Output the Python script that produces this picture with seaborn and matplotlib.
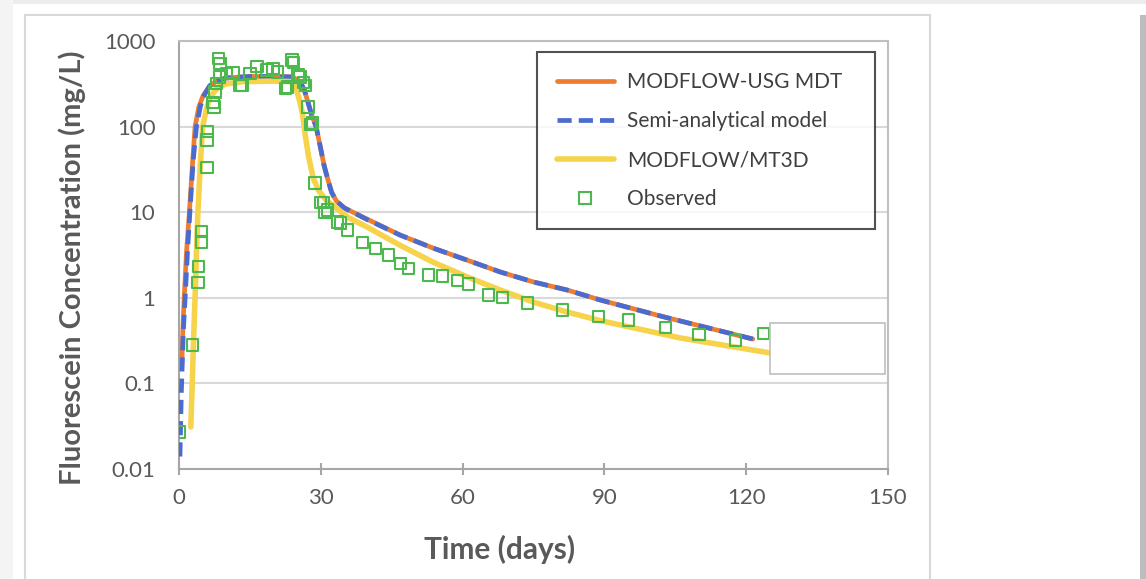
import matplotlib
matplotlib.use("Agg")
import matplotlib.pyplot as plt
from matplotlib.lines import Line2D
from matplotlib.patches import Rectangle
import seaborn as sns
import pandas as pd

# ---------------- data ----------------
mdt_day = [0.6, 0.8, 1.1, 1.6, 2.2, 2.9, 3.4, 4.2, 5.1, 6.5, 8, 10, 15, 20, 24,
           25.5, 26.5, 27.2, 28.0, 29.0, 29.9, 30.7, 31.5, 32.3, 33.3, 35.0,
           39.8, 46.8, 53.8, 61, 68, 75, 82.2, 89.2, 102.5, 121.4]
mdt_conc = [0.17, 0.4, 1.0, 3.5, 10, 40, 100, 170, 230, 300, 340, 370, 385, 385, 380,
            340, 270, 200, 140, 100, 58, 35, 24, 17, 13.5, 11.2,
            8.3, 5.4, 3.8, 2.75, 2.0, 1.53, 1.23, 0.94, 0.6, 0.33]

semi_day = [0.2, 0.5, 0.9, 1.3, 1.8, 2.3, 3.0, 3.7, 4.5, 5.1, 6.5, 8, 10, 15, 20, 24,
            25.5, 26.5, 27.2, 28.0, 29.0, 29.9, 30.7, 31.5, 32.3, 33.3, 35.0,
            39.8, 46.8, 53.8, 61, 68, 75, 82.2, 89.2, 102.5, 121.4]
semi_conc = [0.014, 0.08, 0.4, 1.0, 3.5, 10, 40, 100, 170, 220, 300, 340, 370, 385, 385, 380,
             340, 270, 200, 140, 100, 58, 35, 24, 17, 13.5, 11.2,
             8.2, 5.4, 3.8, 2.75, 2.0, 1.53, 1.23, 0.94, 0.6, 0.33]

mt3d_day = [2.5, 2.8, 3.1, 3.4, 3.7, 4.0, 4.5, 5.0, 5.8, 6.6, 8.3, 10, 13.6, 20, 24.2,
            24.8, 25.5, 26.1, 26.7, 27.4, 28.4, 29.5, 31.3, 32.6, 35.6, 39.8,
            46.8, 53.8, 61, 68, 75, 82.2, 89.2, 106, 125.2]
mt3d_conc = [0.031, 0.1, 0.35, 1.0, 3.5, 10, 35, 100, 160, 222, 290, 315, 335, 340, 335,
             280, 200, 145, 80, 45, 25, 18, 13.5, 12, 8.8, 6.7,
             4.1, 2.6, 1.75, 1.23, 0.89, 0.68, 0.54, 0.34, 0.226]

obs_day = [0, 2.8, 4.0, 4.2, 4.8, 4.8, 5.9, 5.9, 6.1, 7.2, 7.4, 7.6, 8.0, 8.3, 8.5, 8.7,
           10, 11.4, 12.9, 13.3, 15, 16.5, 18.6, 19.9, 20.8, 22.5, 22.9, 23.9, 24.2,
           25.2, 25.6, 26.3, 26.7, 27.3, 27.8, 28.2, 28.8, 29.9, 30.5, 30.9, 31.4,
           33.5, 34.1, 35.6, 38.8, 41.5, 44.3, 46.8, 48.5, 52.8, 55.7, 58.9, 61.2,
           65.5, 68.4, 73.7, 81.1, 88.7, 95.1, 103, 110, 117.8, 123.7]
obs_conc = [0.027, 0.28, 1.5, 2.3, 4.5, 5.9, 33, 70, 87, 190, 170, 254, 320, 630, 380, 550,
            420, 430, 305, 305, 420, 500, 460, 480, 435, 280, 290, 600, 560,
            400, 380, 325, 305, 170, 105, 110, 22, 13, 13, 10, 10.6,
            7.7, 7.5, 6.2, 4.4, 3.8, 3.16, 2.5, 2.2, 1.85, 1.8, 1.6, 1.45,
            1.08, 1.0, 0.87, 0.72, 0.6, 0.55, 0.45, 0.37, 0.32, 0.38]

x_ticks = [0, 30, 60, 90, 120, 150]
y_ticks = [0.01, 0.1, 1, 10, 100, 1000]
y_tick_labels = ["0.01", "0.1", "1", "10", "100", "1000"]

labels = ["MODFLOW-USG MDT", "Semi-analytical model", "MODFLOW/MT3D", "Observed"]
c_orange = "#ED7D31"
c_blue = "#4A6BD0"
c_yellow = "#F6D34A"
c_green = "#4DB84D"
c_text = "#595959"

# ---------------- plot ----------------
sns.set_theme(style="white")
plt.rcParams["font.family"] = ["Lato", "DejaVu Sans"]

fig = plt.figure(figsize=(11.46, 5.79), dpi=100)
fig.patch.set_facecolor("white")

# screenshot frame decorations (behind axes)
fig.patches.append(Rectangle((0, 1 - 4 / 579), 1, 4 / 579, transform=fig.transFigure,
                             facecolor="#ececec", edgecolor="none", zorder=-3))
fig.patches.append(Rectangle((0, 0), 13 / 1146, 1, transform=fig.transFigure,
                             facecolor="#f4f4f4", edgecolor="none", zorder=-3))
fig.patches.append(Rectangle((1140 / 1146, 0), 6 / 1146, 1 - 15 / 579, transform=fig.transFigure,
                             facecolor="#bdbdbd", edgecolor="none", zorder=-3))
fig.patches.append(Rectangle((25 / 1146, -0.05), (930 - 25) / 1146, 1.05 - 15 / 579,
                             transform=fig.transFigure, facecolor="white",
                             edgecolor="#d9d9d9", linewidth=1.5, zorder=-2))

ax = fig.add_axes([179 / 1146, 110 / 579, (888 - 179) / 1146, (469 - 41) / 579])
ax.set_facecolor("none")

df_mdt = pd.DataFrame({"day": mdt_day, "conc": mdt_conc})
df_semi = pd.DataFrame({"day": semi_day, "conc": semi_conc})
df_mt3d = pd.DataFrame({"day": mt3d_day, "conc": mt3d_conc})
df_obs = pd.DataFrame({"day": obs_day, "conc": obs_conc})

lw = 3.4
lw_y = 4.0
dash = (3.0, 1.5)
sns.lineplot(data=df_mdt, x="day", y="conc", ax=ax, color=c_orange, linewidth=lw,
             sort=False, estimator=None, zorder=3)
sns.lineplot(data=df_semi, x="day", y="conc", ax=ax, color=c_blue, linewidth=lw,
             sort=False, estimator=None, zorder=4)
ax.lines[-1].set_dashes(dash)
sns.lineplot(data=df_mt3d, x="day", y="conc", ax=ax, color=c_yellow, linewidth=lw_y,
             sort=False, estimator=None, zorder=5)
sns.scatterplot(data=df_obs, x="day", y="conc", ax=ax, marker="s", s=66,
                linewidth=1.5, zorder=6)
coll = ax.collections[-1]
coll.set_facecolor("none")
coll.set_edgecolor(c_green)

ax.set_yscale("log")
ax.set_xlim(0, 150)
ax.set_ylim(0.01, 1000)
ax.set_xticks(x_ticks)
ax.set_xticklabels([str(t) for t in x_ticks])
ax.set_yticks(y_ticks)
ax.set_yticklabels(y_tick_labels)
ax.yaxis.set_minor_locator(matplotlib.ticker.NullLocator())

ax.grid(axis="y", color="#d9d9d9", linewidth=1.5, zorder=0)
ax.grid(axis="x", visible=False)
ax.set_axisbelow(True)

for side in ["left", "bottom"]:
    ax.spines[side].set_color("#a6a6a6")
    ax.spines[side].set_linewidth(1.5)
for side in ["top", "right"]:
    ax.spines[side].set_color("#bfbfbf")
    ax.spines[side].set_linewidth(1.5)

ax.tick_params(axis="x", direction="inout", length=9, width=1.5, color="#a6a6a6",
               labelsize=16, labelcolor=c_text, pad=9, bottom=True)
ax.tick_params(axis="y", length=0, labelsize=16, labelcolor=c_text, pad=17, left=True)

ax.set_xlabel("")
ax.set_ylabel("")
fig.text(500 / 1146, 1 - 549 / 579, "Time (days)", ha="center", va="center",
         fontsize=21.5, fontweight="bold", color=c_text)
fig.text(72 / 1146, 1 - 268 / 579, "Fluorescein Concentration (mg/L)", ha="center",
         va="center", rotation=90, fontsize=21, fontweight="bold", color=c_text)

# small empty box at the right of the plot
ax.add_patch(Rectangle((0.834, 0.222), 0.162, 0.119, transform=ax.transAxes,
                       facecolor="white", edgecolor="#bfbfbf", linewidth=1.2, zorder=7))

handles = [
    Line2D([], [], color=c_orange, linewidth=lw),
    Line2D([], [], color=c_blue, linewidth=lw, dashes=dash),
    Line2D([], [], color=c_yellow, linewidth=lw_y),
    Line2D([], [], color=c_green, marker="s", linestyle="none", markersize=8.5,
           markerfacecolor="none", markeredgewidth=1.5),
]
leg = ax.legend(handles, labels, loc="upper left", mode="expand",
                bbox_to_anchor=(0.505, 0.554, 0.477, 0.42),
                frameon=True, fancybox=False, fontsize=15, labelspacing=0.92,
                handlelength=2.75, handletextpad=0.6, borderpad=0.95, borderaxespad=0)
leg.get_frame().set_edgecolor("#262626")
leg.get_frame().set_linewidth(1.5)
leg.set_zorder(10)
for t in leg.get_texts():
    t.set_color("#404040")

fig.savefig("out.png", dpi=100, facecolor=fig.get_facecolor())
